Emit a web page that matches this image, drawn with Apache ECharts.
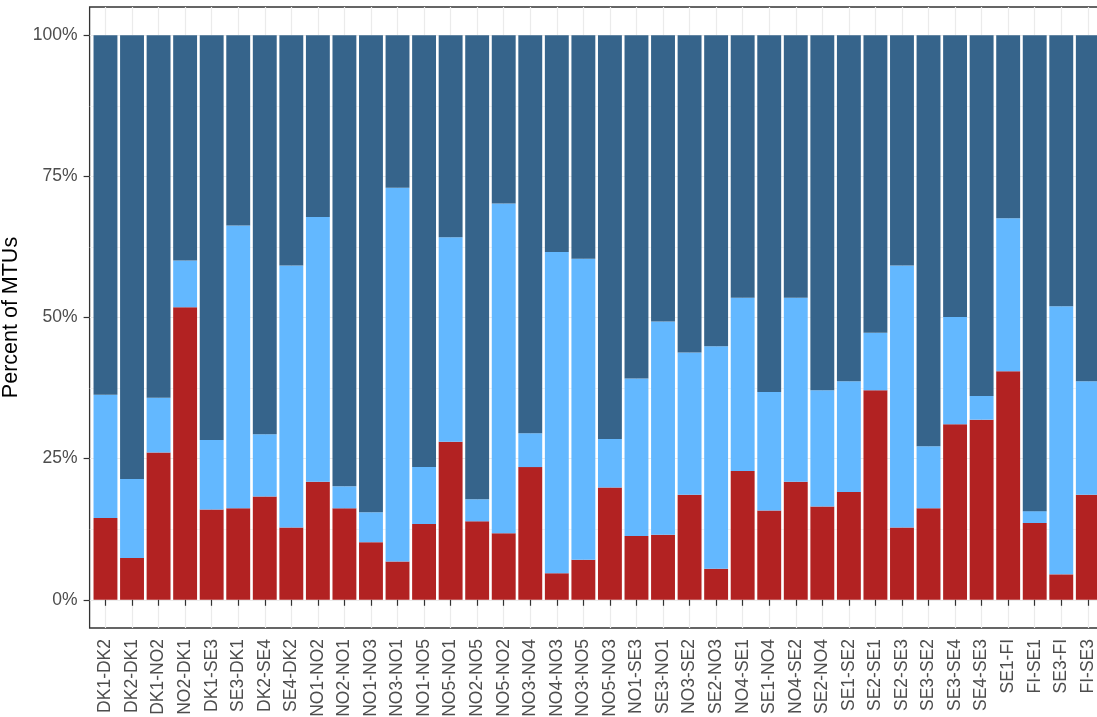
<!DOCTYPE html>
<html>
<head>
<meta charset="utf-8">
<script src="https://cdn.jsdelivr.net/npm/echarts@6/dist/echarts.min.js"></script>
<style>
  html, body { margin: 0; padding: 0; background: #ffffff; }
  #chart { width: 1097px; height: 717px; }
</style>
</head>
<body>
<div id="chart"></div>
<script>
// Bidding-zone borders (direction "from-to")
const borders = [
  'DK1-DK2', 'DK2-DK1', 'DK1-NO2', 'NO2-DK1', 'DK1-SE3', 'SE3-DK1', 'DK2-SE4', 'SE4-DK2',
  'NO1-NO2', 'NO2-NO1', 'NO1-NO3', 'NO3-NO1', 'NO1-NO5', 'NO5-NO1', 'NO2-NO5', 'NO5-NO2',
  'NO3-NO4', 'NO4-NO3', 'NO3-NO5', 'NO5-NO3', 'NO1-SE3', 'SE3-NO1', 'NO3-SE2', 'SE2-NO3',
  'NO4-SE1', 'SE1-NO4', 'NO4-SE2', 'SE2-NO4', 'SE1-SE2', 'SE2-SE1', 'SE2-SE3', 'SE3-SE2',
  'SE3-SE4', 'SE4-SE3', 'SE1-FI', 'FI-SE1', 'SE3-FI', 'FI-SE3'
];

// Share of MTUs per border, in percent (bottom to top of each stack)
const shareRed = [
  14.5, 7.4, 26.1, 51.8, 16.0, 16.2, 18.3, 12.8, 20.9, 16.2, 10.2, 6.8, 13.4, 28.0, 13.9, 11.8,
  23.5, 4.7, 7.1, 19.9, 11.3, 11.5, 18.6, 5.5, 22.8, 15.8, 20.9, 16.5, 19.1, 37.1, 12.8, 16.2,
  31.1, 31.9, 40.5, 13.6, 4.5, 18.6
];
const shareLight = [
  21.8, 14.0, 9.7, 8.3, 12.3, 50.1, 11.0, 46.4, 46.9, 3.9, 5.3, 66.2, 10.1, 36.2, 3.9, 58.4,
  6.0, 56.9, 53.3, 8.6, 27.9, 37.8, 25.2, 39.4, 30.7, 21.0, 32.6, 20.6, 19.6, 10.2, 46.4, 11.0,
  19.0, 4.2, 27.1, 2.1, 47.5, 20.1
];
const shareDark = [
  63.7, 78.6, 64.2, 39.9, 71.7, 33.7, 70.7, 40.8, 32.2, 79.9, 84.5, 27.0, 76.5, 35.8, 82.2, 29.8,
  70.5, 38.4, 39.6, 71.5, 60.8, 50.7, 56.2, 55.1, 46.5, 63.2, 46.5, 62.9, 61.3, 52.7, 40.8, 72.8,
  49.9, 63.9, 32.4, 84.3, 48.0, 61.3
];

// Axis tick values
const majorTicks = [0, 25, 50, 75, 100];
const minorTicks = [12.5, 37.5, 62.5, 87.5];

const FONT = "'Liberation Sans', Arial, sans-serif";
const GRID_LINE = '#EBEBEB';
const TEXT_GREY = '#4D4D4D';
const INK = '#333333';

const chart = echarts.init(document.getElementById('chart'), null, { renderer: 'canvas' });

chart.setOption({
  animation: false,
  backgroundColor: '#ffffff',
  textStyle: { fontFamily: FONT },
  grid: [
    // panel frame with horizontal guide lines
    { left: 89.6, top: 7, width: 1014.2, height: 621, show: true,
      borderColor: INK, borderWidth: 1.3, backgroundColor: 'transparent',
      containLabel: false, outerBoundsMode: 'none' },
    // bar area
    { left: 92.2, top: 7, width: 1008.9, height: 621,
      containLabel: false, outerBoundsMode: 'none' }
  ],
  xAxis: [
    { gridIndex: 0, type: 'value', min: 0, max: 1, show: false },
    {
      gridIndex: 1, type: 'category', data: borders, boundaryGap: true,
      axisLine: { show: false },
      axisTick: { show: true, alignWithLabel: true, length: 6, lineStyle: { color: INK, width: 1.2 } },
      axisLabel: { interval: 0, rotate: 90, margin: 11, color: TEXT_GREY, fontSize: 17.5, fontFamily: FONT },
      splitLine: { show: true, alignWithLabel: true, lineStyle: { color: GRID_LINE, width: 1.2 } }
    }
  ],
  yAxis: [
    {
      gridIndex: 0, type: 'value', min: -5, max: 105, position: 'left',
      name: 'Percent of MTUs', nameLocation: 'middle', nameGap: 61,
      nameTextStyle: { color: '#000000', fontSize: 21.5, fontFamily: FONT },
      axisLine: { show: false },
      axisTick: { show: true, length: 6, customValues: majorTicks, lineStyle: { color: INK, width: 1.2 } },
      axisLabel: { customValues: majorTicks, formatter: '{value}%', margin: 12,
        color: TEXT_GREY, fontSize: 17.5, fontFamily: FONT },
      splitLine: { show: true, lineStyle: { color: GRID_LINE, width: 1.2 } }
    },
    {
      gridIndex: 0, type: 'value', min: -5, max: 105, position: 'right',
      axisLine: { show: false },
      axisTick: { show: false, customValues: minorTicks },
      axisLabel: { show: false, customValues: minorTicks },
      splitLine: { show: true, lineStyle: { color: GRID_LINE, width: 0.6 } }
    },
    { gridIndex: 1, type: 'value', min: -5, max: 105, show: false }
  ],
  series: [
    { name: 'Lower share', type: 'bar', stack: 'mtu', xAxisIndex: 1, yAxisIndex: 2,
      barWidth: '90%', data: shareRed, itemStyle: { color: '#B22222' } },
    { name: 'Middle share', type: 'bar', stack: 'mtu', xAxisIndex: 1, yAxisIndex: 2,
      barWidth: '90%', data: shareLight, itemStyle: { color: '#63B8FF' } },
    { name: 'Upper share', type: 'bar', stack: 'mtu', xAxisIndex: 1, yAxisIndex: 2,
      barWidth: '90%', data: shareDark, itemStyle: { color: '#36648B' } }
  ]
});
</script>
</body>
</html>
